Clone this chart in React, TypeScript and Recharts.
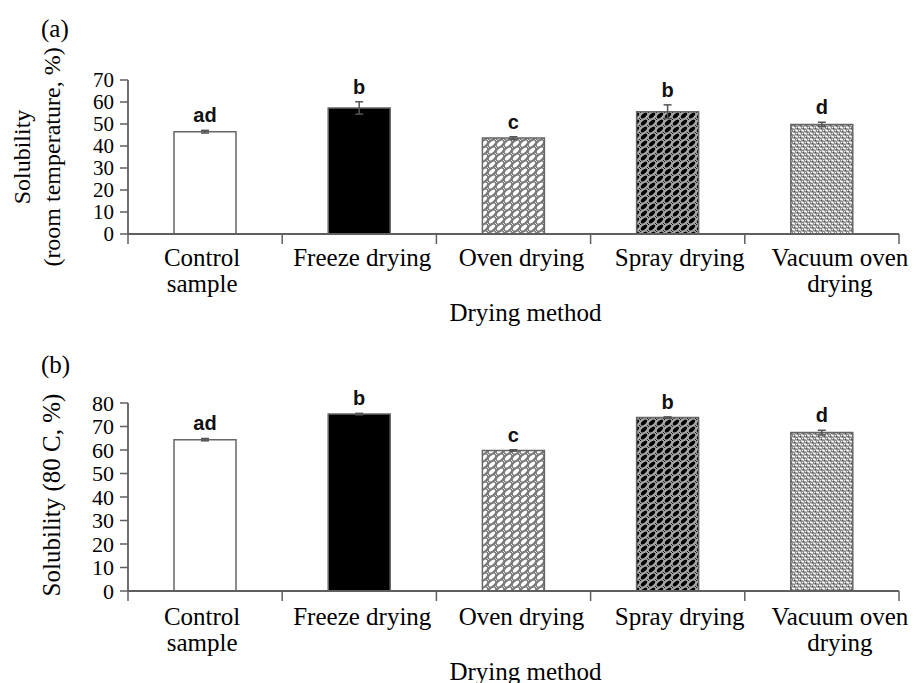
import React from 'react';
import { BarChart, Bar, XAxis, YAxis, ErrorBar, LabelList, Cell } from 'recharts';

const categories = ['Control sample', 'Freeze drying', 'Oven drying', 'Spray drying', 'Vacuum oven drying'];
const categoryLines = [['Control', 'sample'], ['Freeze drying'], ['Oven drying'], ['Spray drying'], ['Vacuum oven', 'drying']];
const roomValues = [46.5, 57.3, 43.6, 55.6, 49.8];
const roomErrors = [0.6, 2.8, 0.6, 3.1, 1.0];
const roomLetters = ['ad', 'b', 'c', 'b', 'd'];
const roomTicks = [0, 10, 20, 30, 40, 50, 60, 70];
const hotValues = [64.4, 75.3, 59.8, 73.8, 67.4];
const hotErrors = [0.5, 0.3, 0.3, 0.3, 1.0];
const hotLetters = ['ad', 'b', 'c', 'b', 'd'];
const hotTicks = [0, 10, 20, 30, 40, 50, 60, 70, 80];

const SERIF = '"Liberation Serif", "Times New Roman", serif';
const SANS = '"Liberation Sans", Arial, sans-serif';
const AXIS = '#5f5f5f';
const W = 919;
const PLOT_LEFT = 128;
const PLOT_RIGHT = 899;
const BAND = (PLOT_RIGHT - PLOT_LEFT) / 5;
const labelDx = [-3, 3, 8, 12, 18];

const roomData = categories.map((name, i) => ({ name, value: roomValues[i], err: roomErrors[i] }));
const hotData = categories.map((name, i) => ({ name, value: hotValues[i], err: hotErrors[i] }));

function Patterns({ p }: { p: string }) {
  return (
    <defs>
      <pattern id={`oven-${p}`} patternUnits="userSpaceOnUse" width={8} height={7}>
        <rect x={0} y={0} width={8} height={7} fill="#7a7a7a" />
        <ellipse cx={4} cy={3.5} rx={3.7} ry={1.8} fill="#ffffff" transform="rotate(-40 4 3.5)" />
        <ellipse cx={0} cy={0} rx={1.6} ry={1} fill="#ffffff" transform="rotate(-40 0 0)" />
        <ellipse cx={8} cy={7} rx={1.6} ry={1} fill="#ffffff" transform="rotate(-40 8 7)" />
      </pattern>
      <pattern id={`spray-${p}`} patternUnits="userSpaceOnUse" width={8} height={7}>
        <rect x={0} y={0} width={8} height={7} fill="#a8a8a8" />
        <ellipse cx={4} cy={3.5} rx={3.8} ry={2.0} fill="#000000" transform="rotate(-40 4 3.5)" />
        <ellipse cx={0} cy={0} rx={1.6} ry={1.1} fill="#000000" transform="rotate(-40 0 0)" />
        <ellipse cx={8} cy={7} rx={1.6} ry={1.1} fill="#000000" transform="rotate(-40 8 7)" />
      </pattern>
      <pattern id={`vac-${p}`} patternUnits="userSpaceOnUse" width={6} height={6}>
        <rect x={0} y={0} width={6} height={6} fill="#8c8c8c" />
        <ellipse cx={1.5} cy={1.5} rx={1.7} ry={0.9} fill="#ffffff" transform="rotate(25 1.5 1.5)" />
        <ellipse cx={4.5} cy={4.5} rx={1.7} ry={0.9} fill="#ffffff" transform="rotate(25 4.5 4.5)" />
        <rect x={4} y={1} width={1} height={1} fill="#f2f2f2" />
        <rect x={1} y={4} width={1} height={1} fill="#f2f2f2" />
        <rect x={5} y={2} width={1} height={1} fill="#555555" />
        <rect x={2} y={5} width={1} height={1} fill="#555555" />
      </pattern>
    </defs>
  );
}

function makeCatTick(line1Offset: number) {
  return (props: any) => {
    const { x, y, index } = props;
    const lines = categoryLines[index] || [];
    const half = BAND / 2;
    return (
      <g>
        <line x1={x - half} x2={x - half} y1={y} y2={y + 10} stroke={AXIS} strokeWidth={1.5} />
        {index === categories.length - 1 && (
          <line x1={x + half} x2={x + half} y1={y} y2={y + 10} stroke={AXIS} strokeWidth={1.5} />
        )}
        <text textAnchor="middle" fontFamily={SERIF} fontSize={25} fill="#000">
          {lines.map((l, i) => (
            <tspan key={i} x={x + labelDx[index]} y={y + line1Offset + i * 26}>
              {l}
            </tspan>
          ))}
        </text>
      </g>
    );
  };
}

function makeLetterLabel(letters: string[], errors: number[]) {
  return (props: any) => {
    const { x, y, width, height, value, index } = props;
    const ppu = value ? height / value : 0;
    const top = y - errors[index] * ppu;
    return (
      <text x={x + width / 2} y={top - 8} textAnchor="middle" fontFamily={SANS} fontWeight="bold" fontSize={20} fill="#111">
        {letters[index]}
      </text>
    );
  };
}

function fills(p: string) {
  return ['#ffffff', '#000000', `url(#oven-${p})`, `url(#spray-${p})`, `url(#vac-${p})`];
}

function Panel(props: {
  p: string;
  data: any[];
  ticks: number[];
  letters: string[];
  errors: number[];
  height: number;
  plotTop: number;
  plotBottom: number;
  line1Offset: number;
  titleY: number;
  tickFont: number;
  yLabel: (vb: any) => React.ReactNode;
}) {
  const { p, data, ticks, letters, errors, height, plotTop, plotBottom, line1Offset, titleY, tickFont } = props;
  const xAxisHeight = height - plotBottom;
  return (
    <BarChart
      width={W}
      height={height}
      data={data}
      margin={{ top: plotTop, right: W - PLOT_RIGHT, bottom: 0, left: 0 }}
      barSize={62}
    >
      <Patterns p={p} />
      <XAxis
        dataKey="name"
        interval={0}
        height={xAxisHeight}
        tickLine={false}
        tickSize={0}
        tickMargin={0}
        axisLine={{ stroke: AXIS, strokeWidth: 1.8 }}
        tick={makeCatTick(line1Offset)}
        label={{
          content: (lp: any) => {
            const vb = lp.viewBox || {};
            return (
              <text x={vb.x + vb.width / 2 + 12} y={titleY} textAnchor="middle" dominantBaseline="central" fontFamily={SERIF} fontSize={25} fill="#000">
                Drying method
              </text>
            );
          },
        }}
      />
      <YAxis
        width={PLOT_LEFT}
        domain={[0, ticks[ticks.length - 1]]}
        ticks={ticks}
        interval={0}
        tickSize={8}
        tickMargin={6}
        tick={{ fontFamily: SERIF, fontSize: tickFont, fill: '#000' }}
        tickLine={{ stroke: AXIS, strokeWidth: 1.5 }}
        axisLine={{ stroke: AXIS, strokeWidth: 1.8 }}
        label={{ content: (lp: any) => props.yLabel(lp.viewBox || {}) }}
      />
      <Bar dataKey="value" isAnimationActive={false} stroke="#666" strokeWidth={1.5}>
        {data.map((d, i) => (
          <Cell key={d.name} fill={fills(p)[i]} />
        ))}
        <ErrorBar dataKey="err" width={4} stroke="#555" strokeWidth={1.5} direction="y" />
        <LabelList dataKey="value" content={makeLetterLabel(letters, errors)} />
      </Bar>
    </BarChart>
  );
}

export default function App() {
  const topH = 335;
  const botH = 683 - topH;
  return (
    <div style={{ position: 'absolute', left: 0, top: 0, width: W, height: 683, background: '#fff', overflow: 'hidden' }}>
      <div style={{ position: 'absolute', left: 0, top: 0 }}>
        <Panel
          p="a"
          data={roomData}
          ticks={roomTicks}
          letters={roomLetters}
          errors={roomErrors}
          height={topH}
          plotTop={80}
          plotBottom={234}
          line1Offset={32}
          titleY={312}
          tickFont={21}
          yLabel={(vb) => {
            const cy = vb.y + vb.height / 2;
            return (
              <g fontFamily={SERIF} fontSize={24} fill="#000">
                <text x={22} y={cy} textAnchor="middle" dominantBaseline="central" transform={`rotate(-90 22 ${cy})`}>
                  Solubility
                </text>
                <text x={52} y={cy} textAnchor="middle" dominantBaseline="central" transform={`rotate(-90 52 ${cy})`}>
                  (room temperature, %)
                </text>
              </g>
            );
          }}
        />
      </div>
      <div style={{ position: 'absolute', left: 0, top: topH }}>
        <Panel
          p="b"
          data={hotData}
          ticks={hotTicks}
          letters={hotLetters}
          errors={hotErrors}
          height={botH}
          plotTop={403 - topH}
          plotBottom={591 - topH}
          line1Offset={34}
          titleY={671 - topH}
          tickFont={22}
          yLabel={(vb) => {
            const cy = vb.y + vb.height / 2 - 2;
            return (
              <text x={51} y={cy} textAnchor="middle" dominantBaseline="central" transform={`rotate(-90 51 ${cy})`} fontFamily={SERIF} fontSize={25} fill="#000">
                Solubility (80 C, %)
              </text>
            );
          }}
        />
      </div>
      <div style={{ position: 'absolute', left: 41, top: 14, fontFamily: SERIF, fontSize: 25, lineHeight: '30px', color: '#000' }}>(a)</div>
      <div style={{ position: 'absolute', left: 41, top: 350, fontFamily: SERIF, fontSize: 25, lineHeight: '30px', color: '#000' }}>(b)</div>
    </div>
  );
}
